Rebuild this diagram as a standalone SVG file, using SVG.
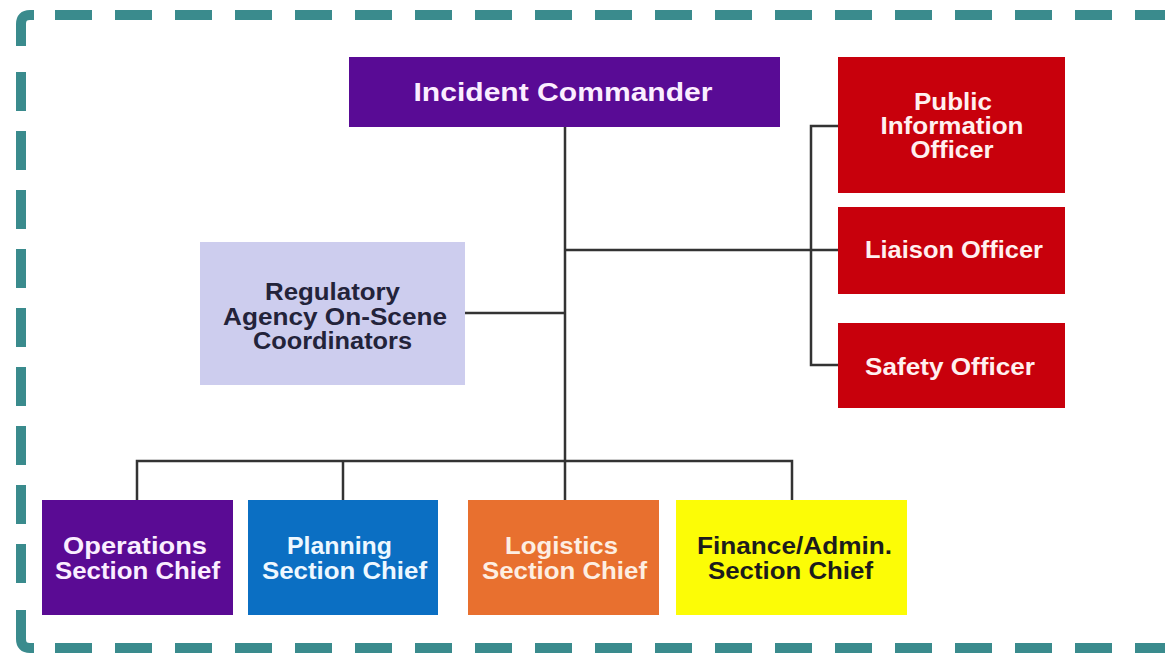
<svg xmlns="http://www.w3.org/2000/svg" width="1165" height="653" viewBox="0 0 1165 653">
<style>
.t{font-family:"Liberation Sans",Arial,sans-serif;font-weight:bold;font-size:23px;text-anchor:middle}
.w{fill:#fbeeff}
.wr{fill:#fff0f0}
.wb{fill:#eef8ff}
.wo{fill:#fdeee2}
.dk{fill:#1c1c1c}
.rg{fill:#23233a}
.b{fill:none;stroke:#3a8b8d;stroke-width:10}
.c{fill:none;stroke:#333;stroke-width:2.5}
</style>
<rect width="1165" height="653" fill="#ffffff"/>
<g id="border">
<path class="b" d="M21,46 L21,24 Q21,15 30,15 L34,15"/>
<path class="b" d="M55,15 L1165,15" stroke-dasharray="37 23"/>
<path class="b" d="M21,72 L21,590" stroke-dasharray="39 20"/>
<path class="b" d="M21,610 L21,639 Q21,648 30,648 L34,648"/>
<path class="b" d="M55,648 L1165,648" stroke-dasharray="37 23"/>
</g>
<g id="connectors">
<path class="c" d="M565,127 L565,500"/>
<path class="c" d="M565,250 L838,250"/>
<path class="c" d="M838,126 L811,126 L811,365 L838,365"/>
<path class="c" d="M465,313 L565,313"/>
<path class="c" d="M137,500 L137,461 L792,461 L792,500"/>
<path class="c" d="M343,461 L343,500"/>
</g>
<g id="incident-commander">
<rect x="349" y="57" width="431" height="70" fill="#590b95"/>
<text class="t w" x="563" y="101" font-size="26" textLength="299" lengthAdjust="spacingAndGlyphs" style="font-size:26px">Incident Commander</text>
</g>
<g id="public-information-officer">
<rect x="838" y="57" width="227" height="136" fill="#c8000c"/>
<text class="t wr" x="953" y="110" textLength="78" lengthAdjust="spacingAndGlyphs">Public</text>
<text class="t wr" x="952" y="134" textLength="143" lengthAdjust="spacingAndGlyphs">Information</text>
<text class="t wr" x="952" y="158" textLength="83" lengthAdjust="spacingAndGlyphs">Officer</text>
</g>
<g id="liaison-officer">
<rect x="838" y="207" width="227" height="87" fill="#c8000c"/>
<text class="t wr" x="954" y="258" textLength="178" lengthAdjust="spacingAndGlyphs">Liaison Officer</text>
</g>
<g id="safety-officer">
<rect x="838" y="323" width="227" height="85" fill="#c8000c"/>
<text class="t wr" x="950" y="375" textLength="170" lengthAdjust="spacingAndGlyphs">Safety Officer</text>
</g>
<g id="regulatory-agency">
<rect x="200" y="242" width="265" height="143" fill="#cdcdee"/>
<text class="t rg" x="332.5" y="300" textLength="135" lengthAdjust="spacingAndGlyphs">Regulatory</text>
<text class="t rg" x="335" y="325" textLength="224" lengthAdjust="spacingAndGlyphs">Agency On-Scene</text>
<text class="t rg" x="332.5" y="349" textLength="159" lengthAdjust="spacingAndGlyphs">Coordinators</text>
</g>
<g id="operations">
<rect x="42" y="500" width="191" height="115" fill="#5a0b94"/>
<text class="t w" x="135" y="554" textLength="144" lengthAdjust="spacingAndGlyphs">Operations</text>
<text class="t w" x="137.5" y="579" textLength="165" lengthAdjust="spacingAndGlyphs">Section Chief</text>
</g>
<g id="planning">
<rect x="248" y="500" width="190" height="115" fill="#0b6fc3"/>
<text class="t wb" x="339.5" y="554" textLength="105" lengthAdjust="spacingAndGlyphs">Planning</text>
<text class="t wb" x="344.5" y="579" textLength="165" lengthAdjust="spacingAndGlyphs">Section Chief</text>
</g>
<g id="logistics">
<rect x="468" y="500" width="191" height="115" fill="#e8702f"/>
<text class="t wo" x="561.5" y="554" textLength="113" lengthAdjust="spacingAndGlyphs">Logistics</text>
<text class="t wo" x="564.5" y="579" textLength="165" lengthAdjust="spacingAndGlyphs">Section Chief</text>
</g>
<g id="finance-admin">
<rect x="676" y="500" width="231" height="115" fill="#fcfc06"/>
<text class="t dk" x="794.5" y="554" textLength="195" lengthAdjust="spacingAndGlyphs">Finance/Admin.</text>
<text class="t dk" x="790.5" y="579" textLength="165" lengthAdjust="spacingAndGlyphs">Section Chief</text>
</g>
</svg>
